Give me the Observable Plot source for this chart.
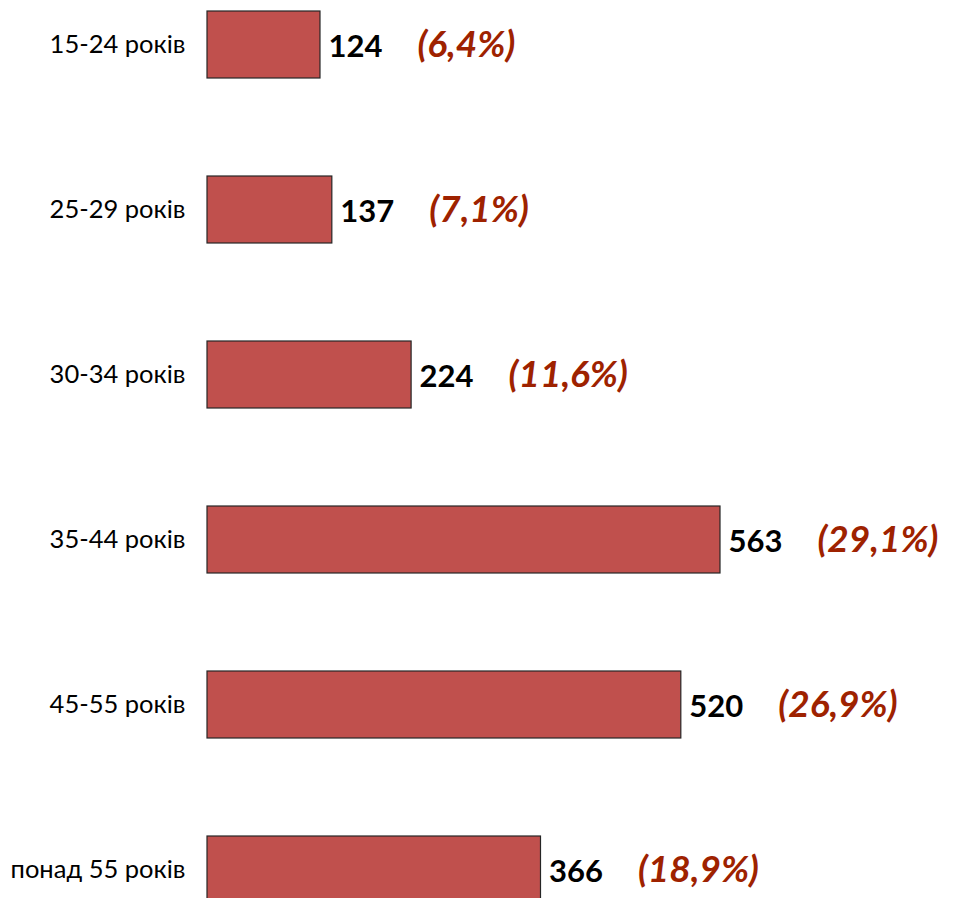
<!DOCTYPE html>
<html>
<head>
<meta charset="utf-8">
<script src="https://cdn.jsdelivr.net/npm/d3@7"></script>
<script src="https://cdn.jsdelivr.net/npm/@observablehq/plot@0.6"></script>
<style>
  html, body { margin: 0; padding: 0; background: #fff; overflow: hidden; }
  #chart svg { display: block; }
</style>
</head>
<body>
<div id="chart"></div>
<script>
const categories = ["15-24 років", "25-29 років", "30-34 років", "35-44 років", "45-55 років", "понад 55 років"];
const counts = [124, 137, 224, 563, 520, 366];
const shares = [6.4, 7.1, 11.6, 29.1, 26.9, 18.9];

const data = categories.map((c, i) => ({cat: c, value: counts[i], pct: shares[i]}));
const fmtPct = p => "(" + p.toFixed(1).replace(".", ",") + "%)";

const chart = Plot.plot({
  width: 955,
  height: 914,
  marginLeft: 207,
  marginRight: 235,
  marginTop: 0,
  marginBottom: 0,
  style: {fontFamily: "Lato, 'Open Sans', sans-serif", background: "#fff"},
  x: {domain: [0, d3.max(counts)], axis: null},
  y: {domain: categories, paddingInner: 0.594, paddingOuter: 0.0667, round: false, label: null},
  marks: [
    Plot.axisY({tickSize: 0, tickPadding: 22, fontSize: 25.5, fontWeight: "normal", fill: "#000", label: null}),
    Plot.barX(data, {x: "value", y: "cat", fill: "#C0504D", stroke: "#262626", strokeWidth: 1.2}),
    Plot.text(data, {x: "value", y: "cat", text: d => String(d.value), dx: 8, dy: 2, textAnchor: "start",
      fontWeight: "bold", fontSize: 31, fill: "#000"}),
    Plot.text(data, {x: "value", y: "cat", text: d => fmtPct(d.pct), dx: 97, dy: 0, textAnchor: "start",
      fontWeight: "bold", fontStyle: "italic", fontSize: 37, fill: "#9E2200"})
  ]
});
document.getElementById("chart").append(chart);
</script>
</body>
</html>
